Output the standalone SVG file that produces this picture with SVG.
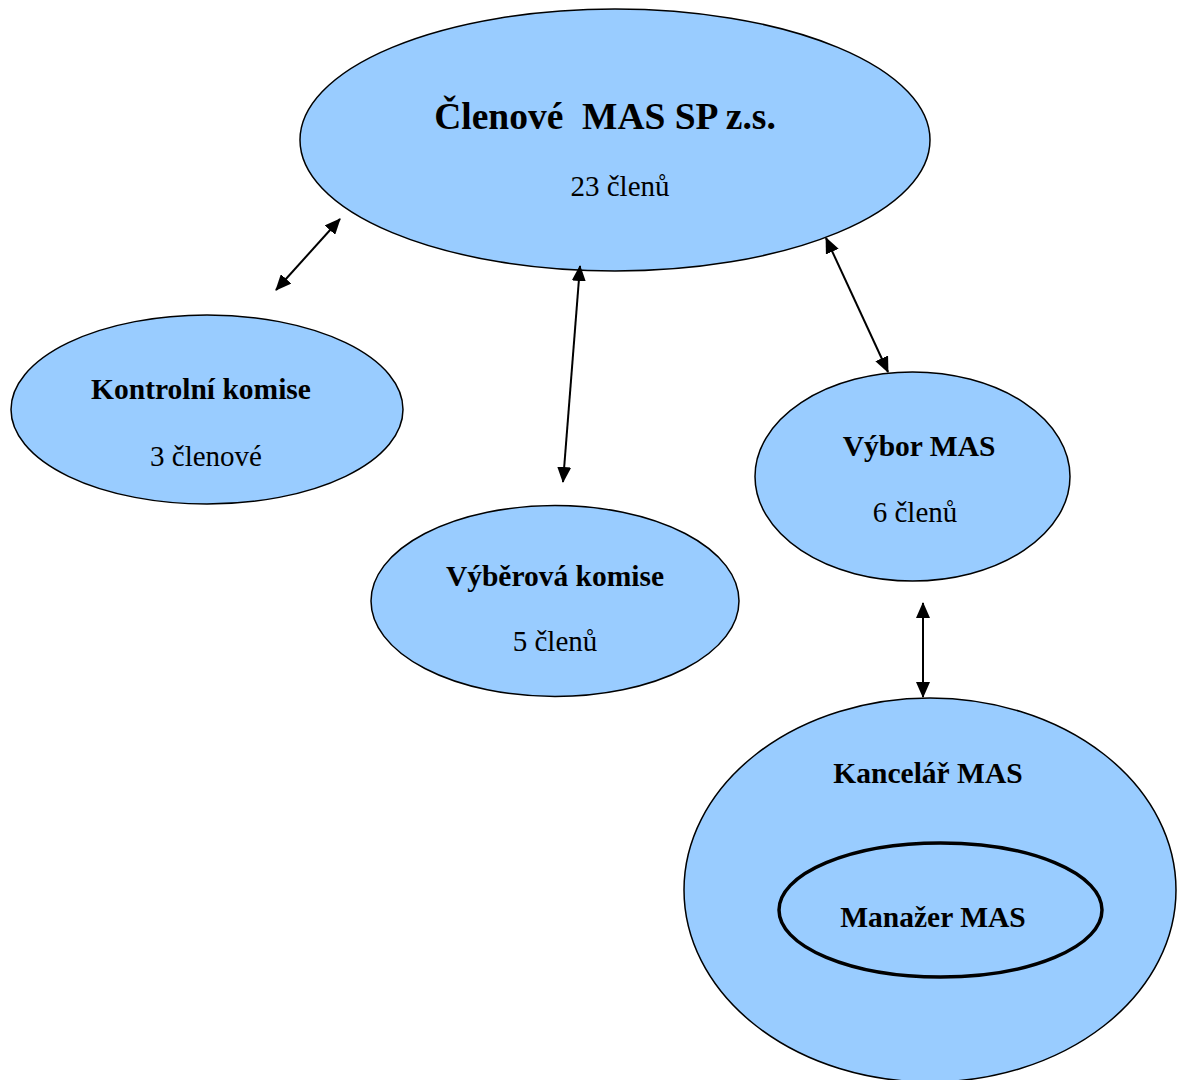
<svg xmlns="http://www.w3.org/2000/svg" width="1177" height="1080" viewBox="0 0 1177 1080">
<style>
.n{fill:#99CCFF;stroke:#000;stroke-width:1.5}
.t{font-family:"Liberation Serif","Times New Roman",serif;fill:#000;text-anchor:middle}
.b{font-weight:bold;font-size:29.5px}
.r{font-size:29px}
.c{stroke:#000;stroke-width:2;fill:none;marker-start:url(#ah);marker-end:url(#ah)}
</style>
<defs>
<marker id="ah" viewBox="0 0 16 14" refX="15" refY="7" markerWidth="16" markerHeight="14" markerUnits="userSpaceOnUse" orient="auto-start-reverse">
<path d="M0,0 L16,7 L0,14 Z" fill="#000"/>
</marker>
</defs>
<rect width="1177" height="1080" fill="#fff"/>
<g id="clenove">
<ellipse class="n" cx="615" cy="140" rx="315" ry="131"/>
<text class="t" x="605" y="129" style="font-weight:bold;font-size:37.5px" xml:space="preserve">Členové  MAS SP z.s.</text>
<text class="t r" x="620" y="196">23 členů</text>
</g>
<g id="kontrolni">
<ellipse class="n" cx="207" cy="409.5" rx="196" ry="94.5"/>
<text class="t b" x="201" y="399">Kontrolní komise</text>
<text class="t r" x="206" y="466">3 členové</text>
</g>
<g id="vyberova">
<ellipse class="n" cx="555" cy="601" rx="184" ry="95.5"/>
<text class="t b" x="555" y="586">Výběrová komise</text>
<text class="t r" x="555" y="651">5 členů</text>
</g>
<g id="vybor">
<ellipse class="n" cx="912.5" cy="476.5" rx="157.5" ry="104.5"/>
<text class="t b" x="919" y="456">Výbor MAS</text>
<text class="t r" x="915" y="522">6 členů</text>
</g>
<g id="kancelar">
<ellipse class="n" cx="930" cy="890" rx="246" ry="192"/>
<text class="t b" x="928" y="783">Kancelář MAS</text>
</g>
<g id="manazer">
<ellipse cx="940.5" cy="910" rx="161.5" ry="67" fill="#99CCFF" stroke="#000" stroke-width="3.5"/>
<text class="t b" x="933" y="927">Manažer MAS</text>
</g>
<g id="connectors">
<line class="c" x1="276" y1="290" x2="340" y2="219"/>
<line class="c" x1="580" y1="266" x2="563" y2="482"/>
<line class="c" x1="826" y1="238" x2="888" y2="372"/>
<line class="c" x1="923" y1="603" x2="923" y2="697"/>
</g>
</svg>
